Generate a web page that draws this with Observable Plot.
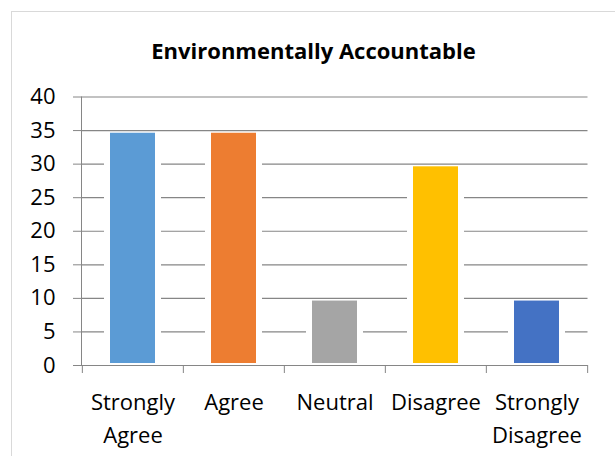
<!DOCTYPE html>
<html>
<head>
<meta charset="utf-8">
<script src="https://cdn.jsdelivr.net/npm/d3@7"></script>
<script src="https://cdn.jsdelivr.net/npm/@observablehq/plot@0.6"></script>
<style>
  html, body { margin: 0; padding: 0; background: #fff; overflow: hidden; }
  #wrap { position: relative; width: 615px; height: 456px; }
  #box { position: absolute; left: 11px; top: 11px; width: 700px; height: 600px; border: 1.5px solid #d9d9d9; }
  #title { position: absolute; left: 12px; right: 0; top: 39px; text-align: center;
           font: bold 22px/22px "Open Sans", sans-serif; color: #000; white-space: nowrap; }
  #chart { position: absolute; left: 0; top: 0; }
</style>
</head>
<body>
<div id="wrap">
  <div id="box"></div>
  <div id="title">Environmentally Accountable</div>
  <div id="chart"></div>
</div>
<script>
// Survey responses
const categories = ["Strongly Agree", "Agree", "Neutral", "Disagree", "Strongly Disagree"];
const values = [34.6, 34.6, 9.6, 29.6, 9.6];
const colors = ["#5B9BD5", "#ED7D31", "#A5A5A5", "#FFC000", "#4472C4"];
const yTicks = [0, 5, 10, 15, 20, 25, 30, 35, 40];

const data = categories.map((category, i) => ({category, value: values[i]}));

const W = 615, H = 456;
const mL = 81, mR = 27.5, mT = 96.5, mB = 91;
const step = (W - mL - mR) / categories.length;
const axisGray = "#868686";

const chart = Plot.plot({
  width: W,
  height: H,
  marginLeft: mL,
  marginRight: mR,
  marginTop: mT,
  marginBottom: mB,
  style: {fontFamily: "'Open Sans', sans-serif", fontSize: "22px", color: "#000", background: "transparent", overflow: "visible"},
  x: {domain: categories, paddingInner: 0.556, paddingOuter: 0.278, label: null},
  y: {domain: [0, 40], label: null},
  color: {domain: categories, range: colors},
  marks: [
    Plot.gridY(yTicks, {stroke: axisGray, strokeOpacity: 1, strokeWidth: 1.2}),
    // white halo that breaks the gridlines around each bar
    Plot.barY(data, {x: "category", y: "value", fill: "white", insetLeft: -6, insetRight: -6}),
    Plot.barY(data, {x: "category", y: "value", fill: "category", insetBottom: 2}),
    Plot.axisY(yTicks, {tickSize: 8, tickPadding: 18, stroke: axisGray, fill: "#000", fontSize: 22, label: null}),
    Plot.frame({anchor: "left", stroke: axisGray}),
    Plot.ruleY([0], {stroke: axisGray}),
    // category boundary ticks below the baseline
    Plot.ruleX(categories, {x: d => d, y1: 0, y2: 0, dx: -step / 2, insetBottom: -8, stroke: axisGray}),
    Plot.ruleX(categories.slice(-1), {x: d => d, y1: 0, y2: 0, dx: step / 2, insetBottom: -8, stroke: axisGray}),
    Plot.axisX({tickSize: 0, tickPadding: 21, tickFormat: d => d.replace(" ", "\n"), lineHeight: 1.5, fontSize: 22, fill: "#000", label: null})
  ]
});

document.getElementById("chart").appendChild(chart);
</script>
</body>
</html>
